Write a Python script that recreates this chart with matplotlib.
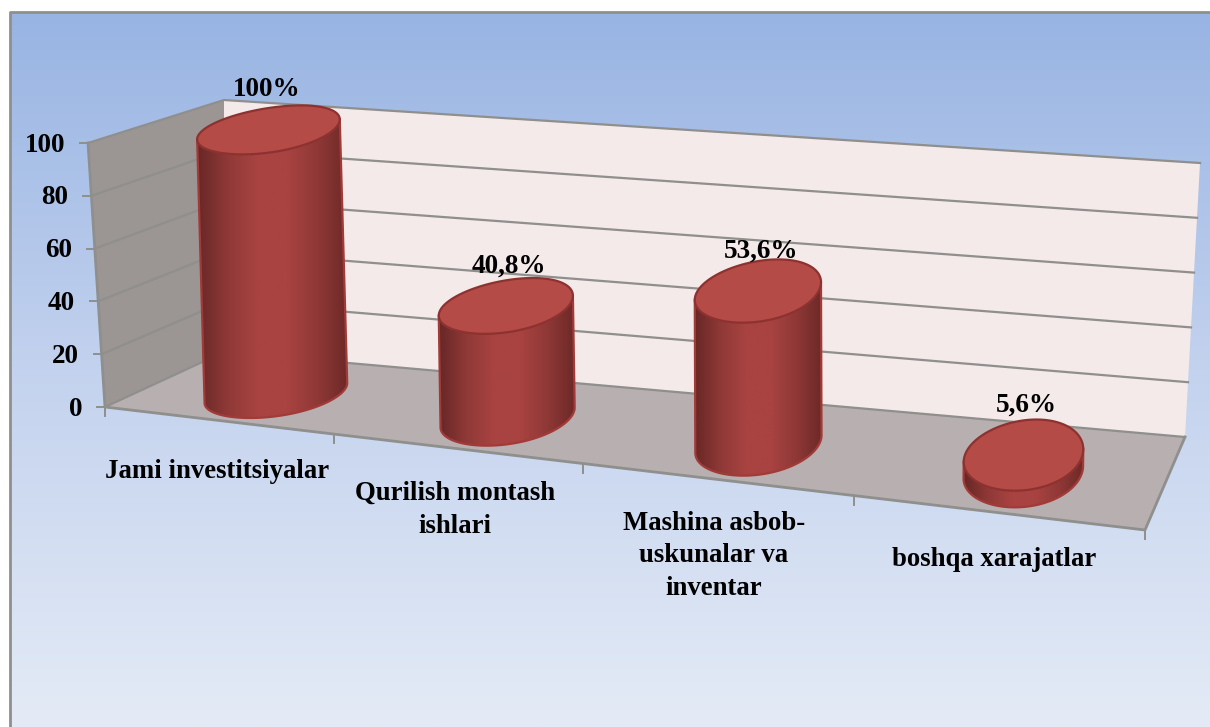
import numpy as np
import matplotlib
matplotlib.use('Agg')
import matplotlib.pyplot as plt
from matplotlib.colors import LinearSegmentedColormap
from matplotlib.patches import Polygon

categories = ['Jami investitsiyalar', 'Qurilish montash\nishlari',
              'Mashina asbob-\nuskunalar va\ninventar', 'boshqa xarajatlar']
values = [100, 40.8, 53.6, 5.6]
value_labels = ['100%', '40,8%', '53,6%', '5,6%']
y_ticks = [0, 20, 40, 60, 80, 100]

# scene corners in pixels, order: front left, front right, back right, back left
floor_quad = np.array([(105, 407), (1145, 530), (1185, 437), (224, 352)], float)
top_quad = np.array([(88, 143), (1140, 200), (1200, 163), (224, 100)], float)

W, H = 1210, 727
GREY = '#8f8f8d'
plt.rcParams['font.family'] = ['Liberation Serif', 'DejaVu Serif']
plt.rcParams['font.weight'] = 'bold'


def warp(s):
    # categories get wider towards the viewer
    return s - 0.16*s*(1-s)


def bilinear(q, s, d):
    front = q[0][:, None]*(1-s) + q[1][:, None]*s
    back = q[3][:, None]*(1-s) + q[2][:, None]*s
    return front*(1-d) + back*d


def project(s, d, v):
    s, d = np.atleast_1d(s).astype(float), np.atleast_1d(d).astype(float)
    k = v / 100
    return (1-k)*bilinear(floor_quad, s, d) + k*bilinear(top_quad, s, d)


def corner(s, d, v):
    return tuple(project(s, d, v)[:, 0])


fig = plt.figure(figsize=(W/100, H/100), dpi=100)
ax = fig.add_axes([0, 0, 1, 1])
ax.set_xlim(0, W)
ax.set_ylim(H, 0)
ax.axis('off')

# background
bg = LinearSegmentedColormap.from_list('bg', ['#98b4e3', '#c3d2ee', '#e4ebf6'])
ax.imshow(np.linspace(0, 1, 256)[:, None], cmap=bg, extent=(10, W, H, 12),
          aspect='auto', zorder=0)
ax.plot([10, 10, W], [H, 12, 12], color=GREY, lw=2, zorder=1)

left_wall = [corner(0, 0, 0), corner(0, 1, 0), corner(0, 1, 100), corner(0, 0, 100)]
back_wall = [corner(0, 1, 0), corner(1, 1, 0), corner(1, 1, 100), corner(0, 1, 100)]
floor = [corner(0, 0, 0), corner(1, 0, 0), corner(1, 1, 0), corner(0, 1, 0)]
ax.add_patch(Polygon(left_wall, fc='#9b9694', ec='none', zorder=2))
ax.add_patch(Polygon(back_wall, fc='#f5eaea', ec='none', zorder=2))
ax.add_patch(Polygon(floor, fc='#b8b0b0', ec='none', zorder=2))

# grid lines and value axis
for v in y_ticks:
    p0, p1, p2 = corner(0, 0, v), corner(0, 1, v), corner(1, 1, v)
    ax.plot([p0[0], p1[0], p2[0]], [p0[1], p1[1], p2[1]], color=GREY, lw=1.6, zorder=3)
    ax.plot([p0[0]-8, p0[0]], [p0[1], p0[1]], color=GREY, lw=1.4, zorder=3)
    ax.text(p0[0]-23, p0[1]+2, str(v), ha='right', va='center', fontsize=19.5, zorder=6)
edge = [corner(0, 0, 100), corner(0, 0, 0), corner(1, 0, 0), corner(1, 1, 0)]
ax.plot(*zip(*edge), color=GREY, lw=2, zorder=3)
n = len(categories)
for i in range(n+1):
    x, y = corner(warp(i/n), 0, 0)
    ax.plot([x, x], [y, y+9], color=GREY, lw=1.4, zorder=3)

# cylinders
body = LinearSegmentedColormap.from_list('body', ['#672726', '#8f3937', '#a84341', '#a84341',
                                                  '#8f3836', '#6c2927'])
bar_shift = [0.008, 0.009, 0.009, 0.003]
label_gap = [16, 12, 8, 14]
label_dx = [-3, 2, 2, 2]
t = np.linspace(0, 2*np.pi, 361)[:-1]
for i, val in enumerate(values):
    sc = warp((i + 0.5) / n) + bar_shift[i]
    dc = 0.47
    ss = sc + 0.056*np.cos(t)
    dd = dc + 0.40*np.sin(t)
    low = project(ss, dd, 0)
    # the top is the base moved up by the height of the bar at its centre
    up = low + project(sc, dc, val) - project(sc, dc, 0)
    # outline of the side: left extreme, under the base, right extreme, back over the top
    il, ir = low[0].argmin(), low[0].argmax()
    jl, jr = up[0].argmin(), up[0].argmax()
    a = np.roll(low, -il, axis=1)
    k = (ir-il) % 360
    arc = a[:, :k+1]
    other = np.concatenate([a[:, k:], a[:, :1]], axis=1)[:, ::-1]
    if other[1].mean() > arc[1].mean():
        arc = other
    side = np.column_stack([up[:, jl], arc, up[:, jr]]).T
    ax.add_patch(Polygon(side, fc='none', ec='#a23a38', lw=1.6, zorder=4.2))
    im = ax.imshow(np.linspace(0, 1, 256)[None, :], cmap=body, aspect='auto', zorder=4,
                   extent=(side[:, 0].min(), side[:, 0].max(), side[:, 1].max(), side[:, 1].min()))
    im.set_clip_path(Polygon(side, transform=ax.transData))
    ax.add_patch(Polygon(up.T, fc='#b54b47', ec='#8d3230', lw=1.6, zorder=5))
    ax.text(up[0].mean()+label_dx[i], up[1].min()-label_gap[i], value_labels[i], ha='center',
            va='center', fontsize=19.5, zorder=6)

ax.set_xlim(0, W)
ax.set_ylim(H, 0)

# category labels
cat_x = [217, 455, 714, 994]
cat_y = [471, 510, 556, 559]
for c, x, y in zip(categories, cat_x, cat_y):
    ax.text(x, y, c, ha='center', va='center', fontsize=19.3, linespacing=1.4, zorder=6)

fig.savefig('out.png', dpi=100)
